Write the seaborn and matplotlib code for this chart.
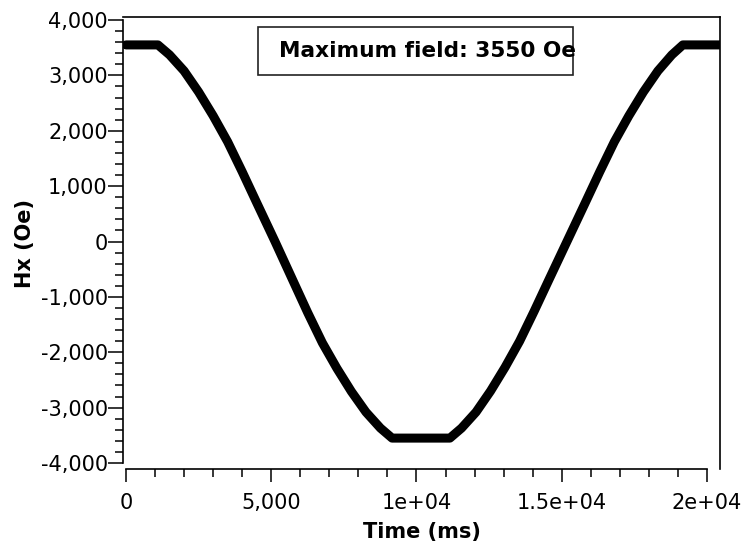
import matplotlib
matplotlib.use("Agg")
import matplotlib.pyplot as plt
from matplotlib.ticker import FixedLocator, FixedFormatter, MultipleLocator, FuncFormatter
from matplotlib.patches import Rectangle
import seaborn as sns
import pandas as pd

# ---- data ----
time_ms = [0, 1100, 1500, 2000, 2500, 3000, 3500, 4000, 4500, 5130, 5760, 6260,
           6760, 7260, 7760, 8260, 8760, 9160,
           11150, 11550, 12050, 12550, 13050, 13550, 14050, 14550, 15180, 15810,
           16310, 16810, 17310, 17810, 18310, 18790, 19170, 20600]
hx_oe = [3550, 3550, 3370, 3080, 2700, 2270, 1800, 1260, 700, 0, -720, -1290,
         -1830, -2290, -2710, -3080, -3370, -3550,
         -3550, -3370, -3080, -2700, -2270, -1800, -1260, -700, 0, 700,
         1260, 1800, 2270, 2700, 3080, 3370, 3550, 3550]

x_ticks = [0, 5000, 10000, 15000, 20000]
x_tick_labels = ["0", "5,000", "1e+04", "1.5e+04", "2e+04"]
annotation = "Maximum field: 3550 Oe"

df = pd.DataFrame({"Time (ms)": time_ms, "Hx (Oe)": hx_oe})

sns.set_theme(style="ticks")
plt.rcParams["font.family"] = ["DejaVu Sans"]
plt.rcParams["text.color"] = "black"
plt.rcParams["axes.labelcolor"] = "black"

fig = plt.figure(figsize=(7.47, 5.48), dpi=100)
ax = fig.add_axes([123 / 747, 1 - 469 / 548, 597 / 747, 452 / 548])

sns.lineplot(data=df, x="Time (ms)", y="Hx (Oe)", ax=ax, color="black",
             linewidth=6.5, solid_capstyle="round", solid_joinstyle="round",
             sort=False, estimator=None)

ax.set_xlim(-103, 20448)
ax.set_ylim(-4108, 4054)

ax.xaxis.set_major_locator(FixedLocator(x_ticks))
ax.xaxis.set_major_formatter(FixedFormatter(x_tick_labels))
ax.xaxis.set_minor_locator(MultipleLocator(1000))
ax.yaxis.set_major_locator(MultipleLocator(1000))
ax.yaxis.set_minor_locator(MultipleLocator(200))
ax.yaxis.set_major_formatter(FuncFormatter(lambda v, p: f"{v:,.0f}"))

for s in ax.spines.values():
    s.set_color("black")
    s.set_linewidth(1.2)
ax.spines["left"].set_bounds(-4000, 4000)
ax.spines["bottom"].set_bounds(0, 20000)

ax.tick_params(axis="x", which="major", length=9.5, width=1.1, pad=8,
               labelsize=15, colors="black", labelcolor="black")
ax.tick_params(axis="x", which="minor", length=5.5, width=1.1, colors="black")
ax.tick_params(axis="y", which="major", length=10.5, width=1.1, pad=0.5,
               labelsize=15, colors="black", labelcolor="black")
ax.tick_params(axis="y", which="minor", length=5.5, width=1.1, colors="black")

ax.set_xlabel("Time (ms)", fontsize=15, fontweight="bold", labelpad=6,
              color="black")
ax.set_ylabel("Hx (Oe)", fontsize=15, fontweight="bold", labelpad=4,
              color="black")

ax.add_patch(Rectangle((0.226, 0.872), 0.528, 0.106, transform=ax.transAxes,
                       fill=False, edgecolor="#222222", linewidth=1.2, zorder=5))
ax.text(0.261, 0.925, annotation, transform=ax.transAxes, fontsize=15.6,
        fontweight="bold", ha="left", va="center", zorder=6, color="black")

fig.savefig("out.png", dpi=100)
